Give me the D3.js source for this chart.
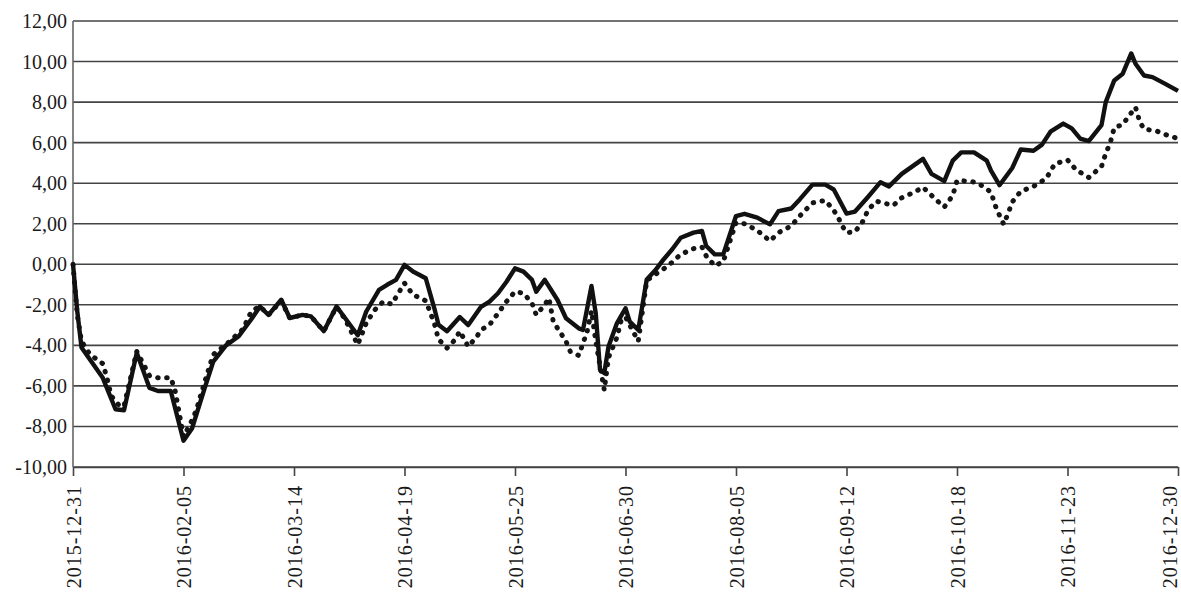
<!DOCTYPE html>
<html>
<head>
<meta charset="utf-8">
<script src="https://cdn.jsdelivr.net/npm/d3@7/dist/d3.min.js"></script>
<style>
  html, body { margin: 0; padding: 0; background: #fff; }
  svg { display: block; }
  .ylab { font-family: "Liberation Serif", "DejaVu Serif", serif; font-size: 20px; fill: #1a1a1a; }
  .xlab { font-family: "Liberation Serif", "DejaVu Serif", serif; font-size: 20px; fill: #1a1a1a; letter-spacing: 1px; }
</style>
</head>
<body>
<svg id="chart" width="1181" height="601"></svg>
<script>
// Tick labels on the x axis (every 26 weekdays from 2015-12-31)
const xTickLabels = ["2015-12-31","2016-02-05","2016-03-14","2016-04-19","2016-05-25",
  "2016-06-30","2016-08-05","2016-09-12","2016-10-18","2016-11-23","2016-12-30"];
const xTickStep = 26;
const yTicks = [-10,-8,-6,-4,-2,0,2,4,6,8,10,12];

// Solid series: weekday index since 2015-12-31 and value
const solidDay = [0,1,2,7,10,12,15,18,20,23,26,28,31,33,36,39,42,44,46,49,51,54,56,59,62,64,67,69,72,74,76,78,80,83,85,86,88,91,93,96,98,100,102,104,106,108,109,111,114,116,119,120,122,123,124,125,126,128,130,131,133,135,137,139,141,143,146,148,149,151,153,156,158,161,164,166,169,171,174,177,179,182,184,187,190,192,195,200,202,205,207,209,212,215,216,218,221,223,226,228,230,233,235,237,239,242,243,245,247,249,250,252,254,257,260];
const solidVal = [0,-2.3,-4.1,-5.6,-7.15,-7.2,-4.37,-6.1,-6.25,-6.25,-8.7,-8.1,-6.1,-4.8,-4.0,-3.55,-2.7,-2.08,-2.5,-1.75,-2.65,-2.5,-2.57,-3.3,-2.08,-2.65,-3.5,-2.33,-1.26,-1.0,-0.77,-0.03,-0.36,-0.69,-2.16,-2.98,-3.3,-2.6,-3.0,-2.1,-1.84,-1.43,-0.86,-0.2,-0.36,-0.77,-1.35,-0.77,-1.76,-2.66,-3.16,-3.24,-1.07,-2.42,-5.2,-5.37,-4.06,-2.9,-2.17,-2.83,-3.24,-0.75,-0.3,0.25,0.74,1.31,1.56,1.64,0.9,0.49,0.49,2.38,2.49,2.3,1.97,2.62,2.75,3.2,3.93,3.93,3.69,2.5,2.6,3.31,4.05,3.84,4.46,5.2,4.46,4.1,5.11,5.52,5.52,5.11,4.62,3.9,4.75,5.66,5.6,5.9,6.54,6.94,6.7,6.2,6.08,6.86,8.0,9.07,9.4,10.4,9.89,9.31,9.23,8.9,8.55];

// Dotted series: weekday index since 2015-12-31 and value
const dottedDay = [0,1,2,4,7,8,9,11,12,15,18,20,23,24,26,28,29,31,33,36,40,42,44,46,49,51,54,56,59,62,64,67,69,71,73,75,78,80,83,85,86,88,90,91,93,95,96,98,100,102,104,106,108,109,111,112,113,116,117,119,121,122,123,125,126,128,129,130,131,133,135,137,140,143,146,148,149,151,153,156,158,161,164,166,169,171,174,177,179,180,181,182,184,186,187,189,193,195,198,200,203,205,207,208,211,213,216,217,218,219,220,221,223,226,229,231,234,236,239,242,243,244,245,247,250,251,252,255,257,260];
const dottedVal = [0,-2.5,-3.8,-4.45,-4.9,-5.6,-6.5,-7.0,-7.0,-4.3,-5.5,-5.6,-5.6,-6.2,-8.5,-7.7,-7.2,-5.8,-4.45,-3.96,-3.2,-2.3,-2.08,-2.5,-1.8,-2.65,-2.5,-2.57,-3.3,-2.1,-2.7,-3.97,-2.9,-2.25,-1.84,-1.97,-0.93,-1.5,-1.8,-2.9,-3.7,-4.13,-3.7,-3.3,-4.06,-3.57,-3.24,-2.99,-2.42,-1.84,-1.35,-1.43,-1.92,-2.5,-2.0,-1.67,-2.83,-3.8,-4.3,-4.5,-3.3,-2.3,-3.8,-6.2,-4.6,-3.6,-2.75,-2.6,-3.0,-3.8,-0.8,-0.5,-0.08,0.49,0.77,0.85,0.41,-0.08,0.13,2.05,2.0,1.67,1.15,1.56,1.89,2.38,3.03,3.15,2.66,2.33,1.89,1.56,1.6,2.16,2.66,3.11,2.9,3.28,3.56,3.8,3.2,2.82,3.39,4.13,4.1,4.0,3.56,2.9,2.41,1.97,2.5,3.07,3.6,3.84,4.23,4.95,5.15,4.66,4.28,4.82,5.47,5.96,6.73,6.9,7.75,7.03,6.67,6.57,6.4,6.2];

const svg = d3.select("#chart");
const padLeft = 73, padRight = 1178, padTop = 21, padBottom = 467;
const nDays = xTickStep * (xTickLabels.length - 1);

const x = d3.scaleLinear().domain([0, nDays]).range([padLeft, padRight]);
const y = d3.scaleLinear().domain([-10, 12]).range([padBottom, padTop]);

// gridlines
svg.append("g").selectAll("line").data(yTicks).join("line")
  .attr("x1", padLeft).attr("x2", padRight)
  .attr("y1", d => y(d)).attr("y2", d => y(d))
  .attr("stroke", "#444").attr("stroke-width", 1.6);

// left axis line
svg.append("line").attr("x1", padLeft).attr("x2", padLeft).attr("y1", padTop).attr("y2", padBottom)
  .attr("stroke", "#666").attr("stroke-width", 1.6);

// y labels
const fmt = d => d3.format(".2f")(d).replace(".", ",").replace("\u2212", "-");
svg.append("g").selectAll("text").data(yTicks).join("text")
  .attr("class", "ylab")
  .attr("x", 67).attr("y", d => y(d)).attr("dy", "0.35em")
  .attr("text-anchor", "end")
  .text(fmt);

// x axis via d3 axis
const xAxis = d3.axisBottom(x)
  .tickValues(xTickLabels.map((_, i) => i * xTickStep))
  .tickFormat((d, i) => xTickLabels[i])
  .tickSize(9).tickSizeOuter(0);
const gx = svg.append("g").attr("transform", `translate(0,${padBottom})`).call(xAxis);
gx.attr("font-family", null).attr("font-size", null);
gx.select(".domain").attr("stroke", "#444").attr("stroke-width", 1.6);
gx.selectAll(".tick line").attr("stroke", "#444").attr("stroke-width", 1.6);
const lastIdx = xTickLabels.length - 1;
gx.selectAll(".tick text")
  .attr("class", "xlab")
  .attr("fill", null)
  .attr("transform", "rotate(-90)")
  .attr("x", -18)
  .attr("y", (d, i) => i === lastIdx ? -9 : 0)
  .attr("dy", "0.35em")
  .attr("text-anchor", "end");

// lines
const line = d3.line().x(d => x(d[0])).y(d => y(d[1])).curve(d3.curveLinear);
const nD = Math.min(dottedDay.length, dottedVal.length);
const nS = Math.min(solidDay.length, solidVal.length);
const dottedData = d3.range(nD).map(i => [dottedDay[i], dottedVal[i]]);
const solidData = d3.range(nS).map(i => [solidDay[i], solidVal[i]]);

svg.append("path").datum(dottedData).attr("d", line)
  .attr("fill", "none").attr("stroke", "#151515").attr("stroke-width", 5)
  .attr("stroke-linecap", "round").attr("stroke-linejoin", "round")
  .attr("stroke-dasharray", "0.5 8.5");

svg.append("path").datum(solidData).attr("d", line)
  .attr("fill", "none").attr("stroke", "#111").attr("stroke-width", 4.4)
  .attr("stroke-linejoin", "round");
</script>
</body>
</html>
